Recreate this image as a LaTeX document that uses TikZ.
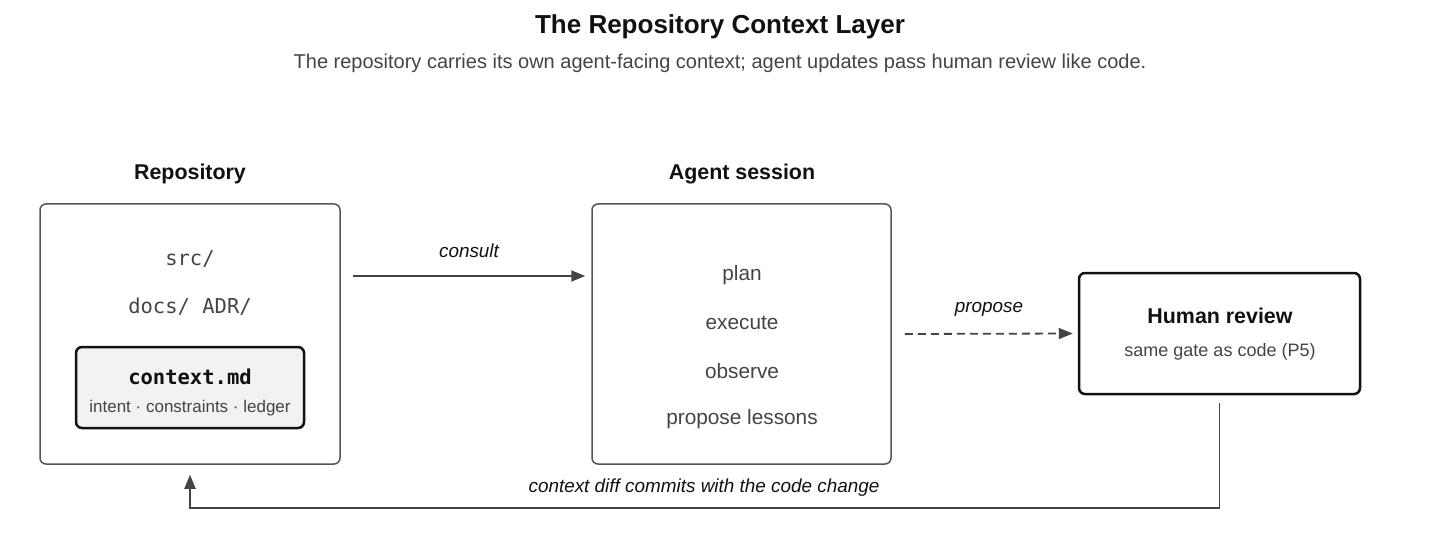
\documentclass[tikz,border=0pt]{standalone}
\usepackage{fontspec}
\setmainfont{Liberation Sans}
\setmonofont{DejaVu Sans Mono}
\usetikzlibrary{arrows.meta, positioning}
\definecolor{inkdark}{HTML}{111111}
\definecolor{inkbody}{HTML}{444444}
\definecolor{framegray}{HTML}{555555}
\definecolor{panelfill}{HTML}{F2F2F2}

\begin{document}
\begin{tikzpicture}[x=1pt, y=-1pt,
  panel/.style={draw=framegray, line width=1.5pt, rounded corners=6pt, inner sep=0pt},
  heading/.style={font=\fontsize{21.4}{25}\selectfont\bfseries, text=inkdark},
  body/.style={font=\fontsize{20.8}{24}\selectfont, text=inkbody},
  note/.style={font=\fontsize{18}{22}\selectfont, text=inkbody},
  pathtext/.style={font=\fontsize{20.5}{24}\selectfont\ttfamily, text=inkbody},
  edgetext/.style={font=\fontsize{18.9}{22}\selectfont\itshape, text=inkdark},
  flow/.style={draw=inkbody, line width=1.8pt, -{Triangle[length=14pt, width=11pt]}}]
  \useasboundingbox (0,0) rectangle (1440,556);

  % title
  \node[font=\fontsize{26}{30}\selectfont\bfseries, text=inkdark] (title) at (720,27) {The Repository Context Layer};
  \node[font=\fontsize{20}{24}\selectfont, text=inkbody] (subtitle) at (720,63) {The repository carries its own agent-facing context; agent updates pass human review like code.};

  % repository
  \node[heading] (repolabel) at (190,174) {Repository};
  \node[panel, minimum width=300pt, minimum height=260pt] (repo) at (190,334) {};
  \node[pathtext] (src) at (190,259) {src/};
  \node[pathtext] (docs) at (190,307) {docs/ ADR/};
  \node[draw=inkdark, fill=panelfill, line width=2.5pt, rounded corners=6pt, minimum width=228pt, minimum height=81pt] (ctx) at (190,387.5) {};
  \node[font=\fontsize{20.5}{24}\selectfont\ttfamily\bfseries, text=inkdark] (ctxname) at (190,377) {context.md};
  \node[note, font=\fontsize{17}{20}\selectfont] (ctxparts) at (190,408) {intent · constraints · ledger};

  % agent session
  \node[heading] (agentlabel) at (742,174) {Agent session};
  \node[panel, minimum width=299pt, minimum height=260pt] (agent) at (741.5,334) {};
  \node[body] (plan) at (742,275) {plan};
  \node[body] (execute) at (742,323) {execute};
  \node[body] (observe) at (742,371) {observe};
  \node[body] (lessons) at (742,419) {propose lessons};

  % human review
  \node[draw=inkdark, line width=2.5pt, rounded corners=6pt, minimum width=281pt, minimum height=121pt] (human) at (1219.5,333.5) {};
  \node[heading] (humanlabel) at (1220,316) {Human review};
  \node[note] (gate) at (1220,352) {same gate as code (P5)};

  % connectors
  \draw[flow] ([shift={(12,-58)}]repo.east) -- ([shift={(-6,-58)}]agent.west);
  \node[edgetext] (consult) at (469,251) {consult};
  \draw[flow, dash pattern=on 8pt off 5pt] ([xshift=13pt]agent.east) -- ([xshift=-5pt]human.west);
  \node[edgetext] (propose) at (989,309) {propose};
  \draw[flow] ([yshift=-8pt]human.south) |- ([yshift=-43pt]repo.south) -- ([yshift=-10pt]repo.south);
  \node[edgetext] (commit) at (704,488) {context diff commits with the code change};
\end{tikzpicture}
\end{document}
